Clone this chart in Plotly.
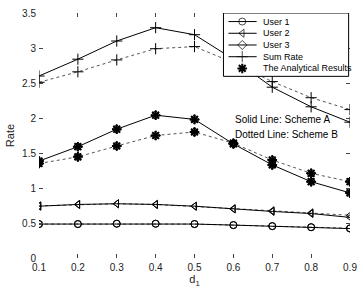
import plotly.graph_objects as go

d1 = [0.1, 0.2, 0.3, 0.4, 0.5, 0.6, 0.7, 0.8, 0.9]

user1_A = [0.485, 0.485, 0.49, 0.49, 0.485, 0.47, 0.455, 0.44, 0.42]
user1_B = [0.485, 0.485, 0.49, 0.49, 0.485, 0.47, 0.455, 0.44, 0.425]
user2_A = [0.74, 0.765, 0.775, 0.765, 0.74, 0.70, 0.665, 0.635, 0.58]
user2_B = [0.745, 0.765, 0.775, 0.765, 0.74, 0.705, 0.675, 0.645, 0.61]
user3_A = [1.385, 1.59, 1.84, 2.04, 1.98, 1.63, 1.33, 1.09, 0.93]
user3_B = [1.35, 1.445, 1.60, 1.75, 1.80, 1.64, 1.40, 1.21, 1.09]
sum_A = [2.60, 2.84, 3.10, 3.29, 3.19, 2.84, 2.44, 2.16, 1.94]
sum_B = [2.51, 2.66, 2.83, 2.99, 3.02, 2.79, 2.52, 2.29, 2.12]

x_ticks = [0.1, 0.2, 0.3, 0.4, 0.5, 0.6, 0.7, 0.8, 0.9]
y_ticks = [0, 0.5, 1, 1.5, 2, 2.5, 3, 3.5]

legend_names = ["User 1", "User 2", "User 3", "Sum Rate", "The Analytical Results"]
legend_symbols = ["circle-open", "triangle-left-open", "diamond-open", "cross-thin-open", "asterisk-open"]

FONT = "Liberation Sans, Arial, sans-serif"
solid = dict(color="black", width=1)
dotted = dict(color="#555", width=1, dash="dot")
SIZES = {"cross-thin-open": 8, "asterisk-open": 8}

fig = go.Figure()

def add(y, symbol, line):
    fig.add_trace(go.Scatter(
        x=d1, y=y, mode="lines+markers", line=line,
        marker=dict(symbol=symbol, size=SIZES.get(symbol, 7), color="black",
                    line=dict(color="black", width=1)),
        showlegend=False, hoverinfo="skip", zorder=0))

for yB, sym in zip([user1_B, user2_B, user3_B, sum_B], legend_symbols[:4]):
    add(yB, sym, dotted)
for yA, sym in zip([user1_A, user2_A, user3_A, sum_A], legend_symbols[:4]):
    add(yA, sym, solid)

fig.add_trace(go.Scatter(
    x=d1 + d1, y=user3_A + user3_B, mode="markers",
    marker=dict(symbol="asterisk-open", size=8, color="black",
                line=dict(color="black", width=2)),
    showlegend=False, hoverinfo="skip", zorder=0))

fig.add_annotation(x=0.6, y=1.98, text="Solid Line: Scheme A", showarrow=False,
                   xanchor="left", yanchor="middle", font=dict(size=10, color="black"))
fig.add_annotation(x=0.6, y=1.765, text="Dotted Line: Scheme B", showarrow=False,
                   xanchor="left", yanchor="middle", font=dict(size=10, color="black"))

# ---- compact legend box, drawn above the data (zorder) in the same plot ----
n = len(legend_names)
LX0, LX1 = 0.5745, 0.8965          # legend box extent in x (data units)
LY0, LY1 = 2.595, 3.5              # legend box extent in y (data units)
lw = LX1 - LX0
lh = LY1 - LY0
rows = [LY0 + lh * (0.865 - i * 0.185) for i in range(n)]
fig.add_trace(go.Scatter(
    x=[LX0, LX1, LX1, LX0, LX0], y=[LY0, LY0, LY1, LY1, LY0], mode="lines", fill="toself",
    fillcolor="white", line=dict(color="black", width=1),
    showlegend=False, hoverinfo="skip", zorder=10))
for i, (nm, sym) in enumerate(zip(legend_names, legend_symbols)):
    is_line = i < 4
    xs = [LX0 + lw * 0.04, LX0 + lw * 0.15, LX0 + lw * 0.265] if is_line else [LX0 + lw * 0.15]
    fig.add_trace(go.Scatter(
        x=xs, y=[rows[i]] * len(xs),
        mode="lines+markers" if is_line else "markers",
        line=solid,
        marker=dict(symbol=sym, size=[0, SIZES.get(sym, 7), 0] if is_line else 8, color="black",
                    line=dict(color="black", width=1 if is_line else 2)),
        showlegend=False, hoverinfo="skip", zorder=11))
    fig.add_annotation(x=LX0 + lw * 0.3, y=rows[i], text=nm, showarrow=False,
                       xanchor="left", yanchor="middle", font=dict(size=9, color="black"))

axis_common = dict(showgrid=False, zeroline=False, showline=True, linecolor="#444",
                   linewidth=1, mirror="ticks", ticks="inside", ticklen=4,
                   tickcolor="#444", tickfont=dict(size=10, color="#222"))

fig.update_layout(
    width=364, height=294,
    margin=dict(l=39, r=7, t=9, b=36),
    paper_bgcolor="white", plot_bgcolor="white",
    font=dict(family=FONT, size=10, color="black"),
    showlegend=False,
    xaxis=dict(range=[0.1, 0.9], tickvals=x_ticks, ticktext=[str(v) for v in x_ticks],
               title=dict(text="d<sub>1</sub>", font=dict(size=11, color="#222"), standoff=3),
               **axis_common),
    yaxis=dict(range=[0, 3.5], tickvals=y_ticks,
               ticktext=["0", "0.5", "1", "1.5", "2", "2.5", "3", "3.5"],
               title=dict(text="Rate", font=dict(size=11, color="#222"), standoff=5),
               **axis_common),
)

fig.write_html("out.html")
